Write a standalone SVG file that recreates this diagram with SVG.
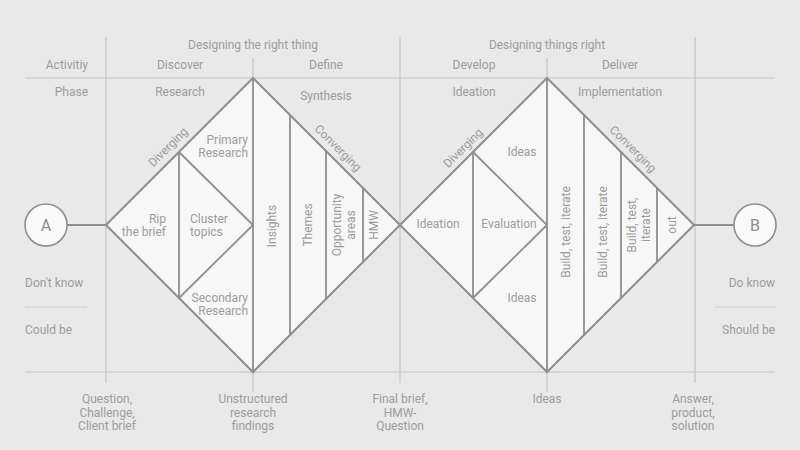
<svg xmlns="http://www.w3.org/2000/svg" width="800" height="450" viewBox="0 0 800 450">
<style>
text{font-family:Roboto,"Liberation Sans",sans-serif;font-size:12px;fill:#9c9c9c;dominant-baseline:central}
.m{text-anchor:middle}
.e{text-anchor:end}
.grid{stroke:#c4c4c4;stroke-width:1.2;fill:none}
.sep{stroke:#d2d2d2;stroke-width:1.2}
.dia{fill:#f7f7f7;stroke:#8e8e8e;stroke-width:2}
.in{stroke:#8e8e8e;stroke-width:1.8;fill:none}
.circ{fill:#fafafa;stroke:#8e8e8e;stroke-width:1.6}
.big{font-size:16px;fill:#8c8c8c}
</style>
<rect width="800" height="450" fill="#e9e9e9"/>
<g id="grid">
<path class="grid" d="M25 78H775M25 372H775M106 37V383M400 37V383M695 37V383M253 58V78M547 58V78M253 372V392M547 372V392"/>
<path class="sep" d="M25 307H87M715 307H776"/>
</g>
<g id="labels">
<text class="m" x="253" y="45">Designing the right thing</text>
<text class="m" x="547" y="45">Designing things right</text>
<text class="e" x="88" y="65">Activitiy</text>
<text class="m" x="180" y="65">Discover</text>
<text class="m" x="326" y="65">Define</text>
<text class="m" x="474" y="65">Develop</text>
<text class="m" x="620" y="65">Deliver</text>
<text class="e" x="88" y="92">Phase</text>
<text class="m" x="180" y="92">Research</text>
<text class="m" x="326" y="96">Synthesis</text>
<text class="m" x="474" y="92">Ideation</text>
<text class="m" x="620" y="92">Implementation</text>
<text x="25" y="283">Don't know</text>
<text x="25" y="330">Could be</text>
<text class="e" x="775" y="283">Do know</text>
<text class="e" x="775" y="330">Should be</text>
<text class="m" x="107" y="399">Question,</text>
<text class="m" x="107" y="413">Challenge,</text>
<text class="m" x="107" y="426">Client brief</text>
<text class="m" x="253" y="399">Unstructured</text>
<text class="m" x="253" y="413">research</text>
<text class="m" x="253" y="426">findings</text>
<text class="m" x="400" y="399">Final brief,</text>
<text class="m" x="400" y="413">HMW-</text>
<text class="m" x="400" y="426">Question</text>
<text class="m" x="547" y="399">Ideas</text>
<text class="m" x="693" y="399">Answer,</text>
<text class="m" x="693" y="413">product,</text>
<text class="m" x="693" y="426">solution</text>
</g>
<g id="connectors">
<path class="in" stroke-width="1.2" d="M67 225H106M694 225H734"/>
</g>
<g id="nodeA">
<circle class="circ" cx="46" cy="225" r="21"/>
<text class="m big" x="46" y="225">A</text>
</g>
<g id="nodeB">
<circle class="circ" cx="755" cy="225" r="21"/>
<text class="m big" x="755" y="225">B</text>
</g>
<g id="diamond1">
<polygon class="dia" points="106,225 253,78 400,225 253,372"/>
<path class="in" d="M179 152V298M179 152L253 225L179 298M253 78V372M290 115V335M326 151V299M363 188V262"/>
<text class="m" transform="translate(168,147) rotate(-45)">Diverging</text>
<text class="m" transform="translate(338,148) rotate(45)">Converging</text>
<text class="e" x="248" y="140">Primary</text>
<text class="e" x="248" y="153">Research</text>
<text class="e" x="166" y="219">Rip</text>
<text class="e" x="166" y="232">the brief</text>
<text x="190" y="219">Cluster</text>
<text x="190" y="232">topics</text>
<text class="e" x="248" y="298">Secondary</text>
<text class="e" x="248" y="311">Research</text>
<text class="m" transform="translate(272,226) rotate(-90)">Insights</text>
<text class="m" transform="translate(308,225) rotate(-90)">Themes</text>
<text class="m" transform="translate(337,225) rotate(-90)">Opportunity</text>
<text class="m" transform="translate(351,225) rotate(-90)">areas</text>
<text class="m" transform="translate(374,225) rotate(-90)">HMW</text>
</g>
<g id="diamond2">
<polygon class="dia" points="400,225 547,78 694,225 547,372"/>
<path class="in" d="M473 152V298M473 152L547 225L473 298M547 78V372M584 115V335M621 152V298M657 188V262"/>
<text class="m" transform="translate(463,148) rotate(-45)">Diverging</text>
<text class="m" transform="translate(633,149) rotate(45)">Converging</text>
<text class="m" x="522" y="152">Ideas</text>
<text class="m" x="438" y="224">Ideation</text>
<text class="m" x="509" y="224">Evaluation</text>
<text class="m" x="522" y="298">Ideas</text>
<text class="m" transform="translate(566,232) rotate(-90)">Build, test, iterate</text>
<text class="m" transform="translate(603,232) rotate(-90)">Build, test, iterate</text>
<text class="m" transform="translate(632,225) rotate(-90)">Build, test,</text>
<text class="m" transform="translate(646,225) rotate(-90)">iterate</text>
<text class="m" transform="translate(672,225) rotate(-90)">out</text>
</g>
</svg>
